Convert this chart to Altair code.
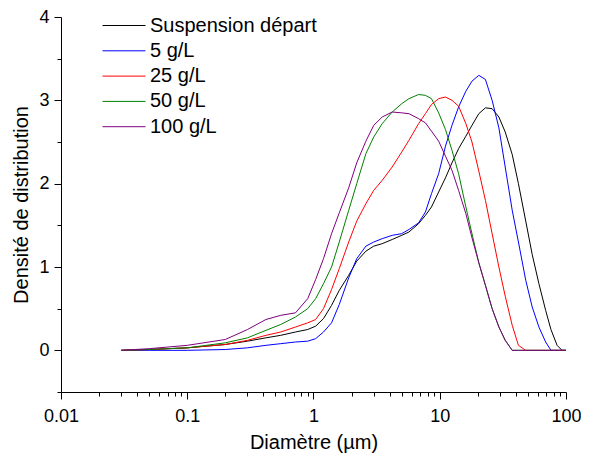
import altair as alt
import pandas as pd

diam = [0.03, 0.05, 0.1, 0.2, 0.3, 0.42, 0.55, 0.72, 0.9, 1.04, 1.2, 1.39, 1.6, 1.9,
        2.2, 2.6, 3.0, 3.5, 4.2, 5.0, 5.7, 6.8, 7.7, 8.6, 9.8, 11.1, 12.5, 14.1, 16.1,
        18, 20.4, 23, 26, 29.4, 33, 37.5, 42, 48, 54, 61, 69, 76, 85, 93, 100]

susp = [0.0, 0.01, 0.03, 0.07, 0.11, 0.15, 0.18, 0.22, 0.25, 0.29, 0.38, 0.54, 0.72, 0.9,
        1.07, 1.19, 1.25, 1.28, 1.33, 1.38, 1.42, 1.52, 1.62, 1.72, 1.9, 2.07, 2.25, 2.42, 2.57,
        2.7, 2.84, 2.91, 2.9, 2.8, 2.62, 2.35, 2.0, 1.55, 1.15, 0.8, 0.48, 0.25, 0.06, 0.0, 0.0]

g5 = [0.0, 0.0, 0.0, 0.01, 0.03, 0.06, 0.08, 0.1, 0.11, 0.14, 0.22, 0.33, 0.55, 0.87,
      1.1, 1.25, 1.3, 1.34, 1.38, 1.4, 1.45, 1.53, 1.66, 1.88, 2.12, 2.45, 2.7, 2.92, 3.11,
      3.23, 3.3, 3.25, 3.0, 2.67, 2.2, 1.68, 1.3, 0.84, 0.52, 0.28, 0.1, 0.0, 0.0, 0.0, 0.0]

g25 = [0.0, 0.01, 0.03, 0.07, 0.12, 0.18, 0.22, 0.28, 0.33, 0.37, 0.5, 0.73, 0.98, 1.3,
       1.55, 1.76, 1.92, 2.04, 2.2, 2.38, 2.52, 2.72, 2.84, 2.95, 3.02, 3.04, 3.0, 2.93, 2.72,
       2.5, 2.15, 1.8, 1.4, 1.0, 0.65, 0.3, 0.06, 0.0, 0.0, 0.0, 0.0, 0.0, 0.0, 0.0, 0.0]

g50 = [0.0, 0.01, 0.03, 0.09, 0.15, 0.24, 0.31, 0.4, 0.5, 0.62, 0.8, 1.0, 1.3, 1.68,
       2.0, 2.36, 2.56, 2.72, 2.86, 2.96, 3.02, 3.07, 3.06, 3.02, 2.85, 2.65, 2.4, 2.12, 1.72,
       1.4, 1.05, 0.78, 0.5, 0.28, 0.12, 0.0, 0.0, 0.0, 0.0, 0.0, 0.0, 0.0, 0.0, 0.0, 0.0]

g100 = [0.0, 0.02, 0.06, 0.13, 0.25, 0.37, 0.42, 0.45, 0.62, 0.85, 1.1, 1.4, 1.65, 1.95,
        2.25, 2.51, 2.7, 2.8, 2.86, 2.85, 2.84, 2.78, 2.73, 2.63, 2.51, 2.33, 2.16, 1.92, 1.64,
        1.35, 1.05, 0.78, 0.5, 0.28, 0.12, 0.0, 0.0, 0.0, 0.0, 0.0, 0.0, 0.0, 0.0, 0.0, 0.0]

series_names = ["Suspension départ", "5 g/L", "25 g/L", "50 g/L", "100 g/L"]
series_colors = ["#000000", "#0000ff", "#ff0000", "#008000", "#800080"]
series_values = [susp, g5, g25, g50, g100]

x_ticks = [0.01, 0.02, 0.03, 0.04, 0.05, 0.06, 0.07, 0.08, 0.09,
           0.1, 0.2, 0.3, 0.4, 0.5, 0.6, 0.7, 0.8, 0.9,
           1, 2, 3, 4, 5, 6, 7, 8, 9,
           10, 20, 30, 40, 50, 60, 70, 80, 90, 100]
y_ticks = [-0.5, 0, 0.5, 1, 1.5, 2, 2.5, 3, 3.5, 4]

rows = []
for k, (name, vals) in enumerate(zip(series_names, series_values)):
    for d, v in zip(diam, vals):
        rows.append({"serie": name, "order": k, "d": d, "v": v})
df = pd.DataFrame(rows)

FONT = "Liberation Sans"
major_x = "indexof([0.01,0.1,1,10,100], datum.value) >= 0"
major_y = "datum.value % 1 == 0"

chart = alt.Chart(df).mark_line(strokeWidth=1).encode(
    x=alt.X("d:Q",
            scale=alt.Scale(type="log", domain=[0.01, 100], nice=False),
            axis=alt.Axis(title="Diamètre (µm)", values=x_ticks,
                          labelExpr=f"{major_x} ? format(datum.value, '~g') : ''",
                          tickSize={"condition": {"test": major_x, "value": 7}, "value": 4},
                          labelOverlap=False, labelFlush=False, labelBound=False,
                          grid=False, labelFontSize=18, titleFontSize=20,
                          labelPadding=8, titlePadding=7)),
    y=alt.Y("v:Q",
            scale=alt.Scale(domain=[-0.5, 4], nice=False, zero=False),
            axis=alt.Axis(title="Densité de distribution", values=y_ticks,
                          labelExpr=f"{major_y} ? format(datum.value, 'd') : ''",
                          tickSize={"condition": {"test": major_y, "value": 7}, "value": 4},
                          labelOverlap=False, labelFlush=False, labelBound=False,
                          grid=False, labelFontSize=18, titleFontSize=20,
                          labelPadding=5, titlePadding=7)),
    color=alt.Color("serie:N",
                    scale=alt.Scale(domain=series_names, range=series_colors),
                    legend=alt.Legend(orient="none", legendX=53, legendY=-1.5, title=None,
                                      symbolType="M-3,0L3,0", symbolSize=205,
                                      symbolStrokeWidth=1, labelFontSize=20,
                                      labelFont=FONT, labelColor="black", labelLimit=400,
                                      labelOffset=16, rowPadding=5.3)),
    detail="order:O",
    order="order:Q",
).properties(
    width=505, height=375,
    autosize=alt.AutoSizeParams(type="none"),
    padding={"left": 53, "top": 9, "right": 15, "bottom": 61},
).configure(background="white").configure_view(stroke=None).configure_axis(
    domainColor="black", tickColor="black", labelColor="black", titleColor="black",
    labelFont=FONT, titleFont=FONT, titleFontWeight="normal", domainWidth=1, tickWidth=1,
)

chart.save("out.html", embed_options={"renderer": "svg", "actions": False})
